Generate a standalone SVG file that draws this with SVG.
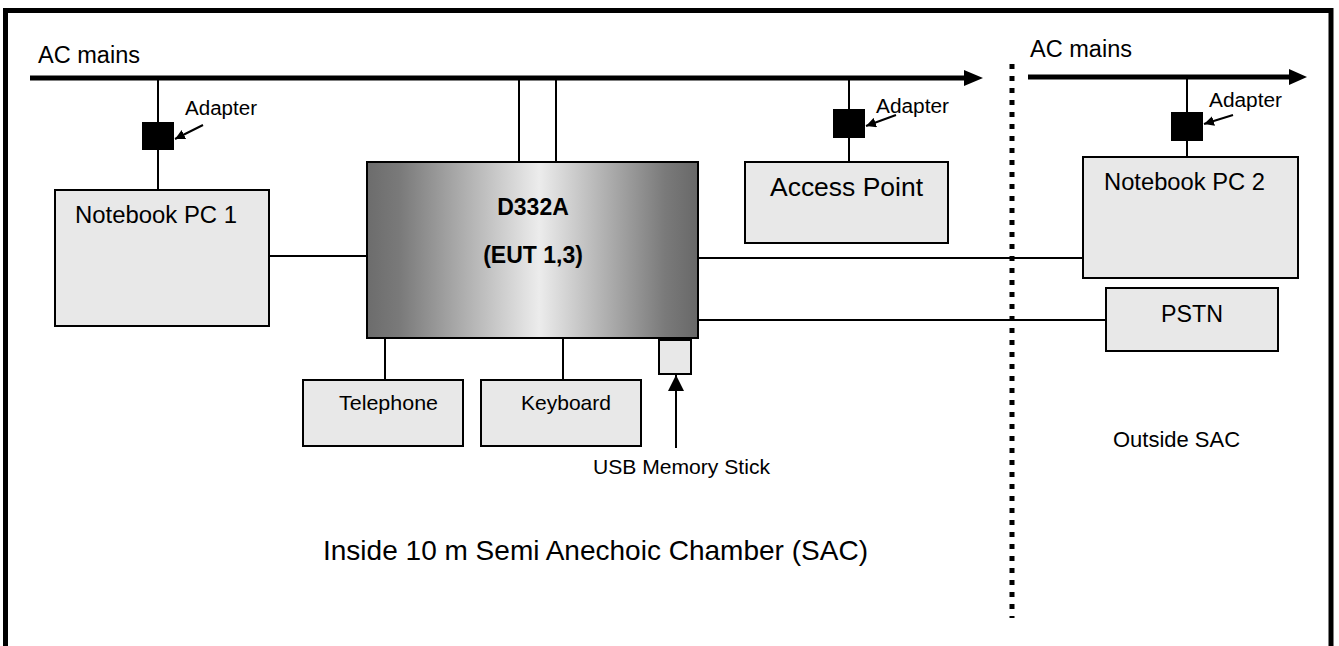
<svg xmlns="http://www.w3.org/2000/svg" width="1339" height="646" viewBox="0 0 1339 646">
<style>
text{font-family:"Liberation Sans",Arial,sans-serif;fill:#000}
.box{fill:#e8e8e8;stroke:#000;stroke-width:2}
.ln{stroke:#000;stroke-width:2;fill:none}
.main{stroke:#000;stroke-width:5;fill:none}
.adp{fill:#000}
.lbl{font-size:22px}
.sm{font-size:20px}
.b{font-weight:bold;font-size:23px}
</style>
<defs>
<linearGradient id="g" x1="0" y1="0" x2="1" y2="0">
<stop offset="0" stop-color="#6c6c6c"/>
<stop offset="0.1" stop-color="#7a7a7a"/>
<stop offset="0.52" stop-color="#ececec"/>
<stop offset="0.9" stop-color="#7a7a7a"/>
<stop offset="1" stop-color="#686868"/>
</linearGradient>
<marker id="ah" viewBox="0 0 10 10" refX="10" refY="5" markerWidth="10" markerHeight="10" markerUnits="userSpaceOnUse" orient="auto">
<path d="M0,0 L10,5 L0,10 z" fill="#000"/>
</marker>
<marker id="ah2" viewBox="0 0 10 10" refX="10" refY="5" markerWidth="16" markerHeight="16" markerUnits="userSpaceOnUse" orient="auto">
<path d="M0,0 L10,5 L0,10 z" fill="#000"/>
</marker>
</defs>
<rect x="5.5" y="10.5" width="1325.5" height="650" fill="none" stroke="#000" stroke-width="5"/>

<g id="connectors">
<line class="main" x1="30" y1="78" x2="966" y2="78"/>
<polygon points="964,70 983,78 964,86" fill="#000"/>
<line class="main" x1="1028" y1="77" x2="1291" y2="77"/>
<polygon points="1289,69 1307,77 1289,85" fill="#000"/>
<line x1="1012" y1="64" x2="1012" y2="618" stroke="#000" stroke-width="5" stroke-dasharray="5 7"/>
<line class="ln" x1="158" y1="78" x2="158" y2="190"/>
<line class="ln" x1="849" y1="78" x2="849" y2="162"/>
<line class="ln" x1="1187" y1="77" x2="1187" y2="157"/>
<line class="ln" x1="519" y1="78" x2="519" y2="162"/>
<line class="ln" x1="556" y1="78" x2="556" y2="162"/>
<line class="ln" x1="269" y1="256" x2="367" y2="256"/>
<line class="ln" x1="698" y1="258" x2="1083" y2="258"/>
<line class="ln" x1="698" y1="320" x2="1106" y2="320"/>
<line class="ln" x1="385" y1="338" x2="385" y2="380"/>
<line class="ln" x1="563" y1="338" x2="563" y2="380"/>
<line class="ln" x1="676" y1="448" x2="676" y2="375" marker-end="url(#ah2)"/>
<line class="ln" x1="203" y1="125" x2="175" y2="139" marker-end="url(#ah)"/>
<line class="ln" x1="896" y1="115" x2="866" y2="126" marker-end="url(#ah)"/>
<line class="ln" x1="1233" y1="115" x2="1204" y2="124" marker-end="url(#ah)"/>
</g>

<g id="labels">
<text x="38" y="63" font-size="23.5" textLength="102" lengthAdjust="spacingAndGlyphs">AC mains</text>
<text x="1030" y="57" font-size="23.5" textLength="102" lengthAdjust="spacingAndGlyphs">AC mains</text>
<text x="323" y="560" font-size="27.5" textLength="545" lengthAdjust="spacingAndGlyphs">Inside 10 m Semi Anechoic Chamber (SAC)</text>
<text x="1113" y="447" font-size="22" textLength="127" lengthAdjust="spacingAndGlyphs">Outside SAC</text>
<text x="593" y="474" font-size="21" textLength="177" lengthAdjust="spacingAndGlyphs">USB Memory Stick</text>
</g>

<g id="adapter1">
<rect class="adp" x="142" y="122" width="32" height="28"/>
<text class="sm" x="185" y="115" textLength="72" lengthAdjust="spacingAndGlyphs">Adapter</text>
</g>
<g id="adapter2">
<rect class="adp" x="833" y="109" width="32" height="29"/>
<text class="sm" x="876" y="113" textLength="73" lengthAdjust="spacingAndGlyphs">Adapter</text>
</g>
<g id="adapter3">
<rect class="adp" x="1171" y="112" width="32" height="29"/>
<text class="sm" x="1209" y="107" textLength="73" lengthAdjust="spacingAndGlyphs">Adapter</text>
</g>

<g id="pc1">
<rect class="box" x="55" y="190" width="214" height="136"/>
<text x="75" y="223" font-size="23.5" textLength="162" lengthAdjust="spacingAndGlyphs">Notebook PC 1</text>
</g>
<g id="eut">
<rect x="367" y="162" width="331" height="176" fill="url(#g)" stroke="#000" stroke-width="2"/>
<text class="b" x="533" y="215" text-anchor="middle">D332A</text>
<text class="b" x="533" y="263" text-anchor="middle">(EUT 1,3)</text>
</g>
<g id="ap">
<rect class="box" x="745" y="162" width="203" height="81"/>
<text x="770" y="196" font-size="26" textLength="153" lengthAdjust="spacingAndGlyphs">Access Point</text>
</g>
<g id="pc2">
<rect class="box" x="1083" y="157" width="215" height="121"/>
<text x="1104" y="190" font-size="23.5" textLength="161" lengthAdjust="spacingAndGlyphs">Notebook PC 2</text>
</g>
<g id="pstn">
<rect class="box" x="1106" y="288" width="172" height="63"/>
<text x="1161" y="322" font-size="23" textLength="62" lengthAdjust="spacingAndGlyphs">PSTN</text>
</g>
<g id="telephone">
<rect class="box" x="303" y="380" width="160" height="66"/>
<text x="339" y="410" font-size="21" textLength="99" lengthAdjust="spacingAndGlyphs">Telephone</text>
</g>
<g id="keyboard">
<rect class="box" x="481" y="380" width="160" height="66"/>
<text x="521" y="410" font-size="21" textLength="90" lengthAdjust="spacingAndGlyphs">Keyboard</text>
</g>
<g id="usb">
<rect class="box" x="659" y="340" width="32" height="34"/>
</g>
</svg>
